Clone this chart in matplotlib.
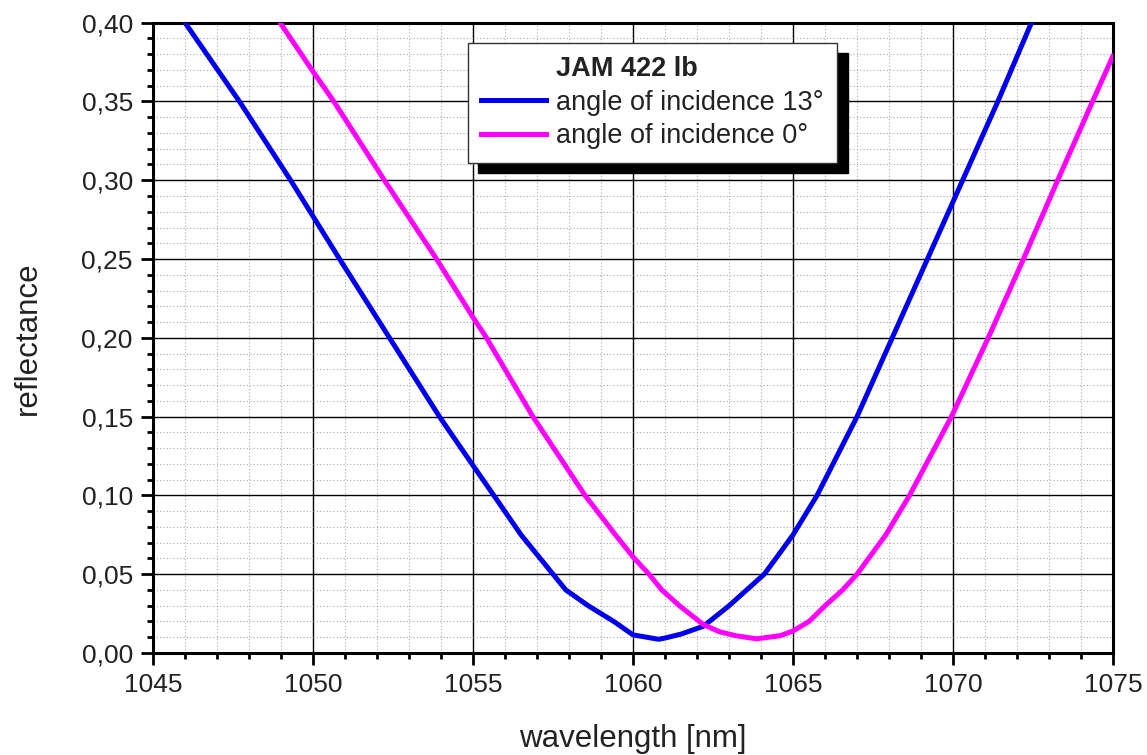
import numpy as np
import matplotlib
matplotlib.use('Agg')
import matplotlib.pyplot as plt
from matplotlib.ticker import MultipleLocator, FuncFormatter
from matplotlib.lines import Line2D

plt.rcParams['font.family'] = ['Liberation Sans', 'DejaVu Sans']

# angle of incidence 13 deg
wl_13 = [1046.0, 1047.7, 1049.3, 1050.83, 1052.39, 1053.95, 1055.0, 1055.65, 1056.5,
         1057.5, 1057.9, 1058.6, 1059.4, 1060.0, 1060.8, 1061.0, 1061.5, 1062.2,
         1063.0, 1063.55, 1064.1, 1064.5, 1065.0, 1065.75, 1067.0, 1068.1, 1069.2,
         1070.3, 1071.4, 1072.45]
r_13 = [0.40, 0.35, 0.30, 0.25, 0.20, 0.15, 0.119, 0.10, 0.075,
        0.05, 0.04, 0.03, 0.02, 0.0115, 0.0087, 0.0095, 0.012, 0.017,
        0.03, 0.04, 0.05, 0.061, 0.075, 0.10, 0.15, 0.20, 0.25,
        0.30, 0.35, 0.40]

# angle of incidence 0 deg
wl_0 = [1048.97, 1050.0, 1050.65, 1052.23, 1053.86, 1055.0, 1055.42, 1056.87, 1058.5,
        1059.45, 1060.0, 1060.5, 1060.9, 1061.45, 1062.2, 1062.7, 1063.2, 1063.86,
        1064.6, 1065.0, 1065.5, 1066.0, 1066.55, 1067.0, 1067.9, 1068.64, 1069.95,
        1071.1, 1072.2, 1073.27, 1074.36, 1075.0]
r_0 = [0.40, 0.369, 0.35, 0.30, 0.25, 0.213, 0.20, 0.15, 0.10,
       0.075, 0.061, 0.05, 0.04, 0.03, 0.018, 0.0135, 0.011, 0.009,
       0.011, 0.014, 0.02, 0.03, 0.04, 0.05, 0.075, 0.10, 0.15,
       0.20, 0.25, 0.30, 0.35, 0.379]

legend_title = 'JAM 422 lb'
labels = ['angle of incidence 13°', 'angle of incidence 0°']

fig = plt.figure(figsize=(11.47, 7.55), dpi=100)
ax = fig.add_axes([0.1334, 0.1351, 0.8370, 0.8349])

ax.plot(wl_13, r_13, color='#0000ee', lw=3.6, solid_capstyle='round',
        solid_joinstyle='round', zorder=3)
ax.plot(wl_0, r_0, color='#ff00ff', lw=3.6, solid_capstyle='round',
        solid_joinstyle='round', zorder=3)

ax.set_xlim(1045, 1075)
ax.set_ylim(0, 0.40)
ax.xaxis.set_major_locator(MultipleLocator(5))
ax.xaxis.set_minor_locator(MultipleLocator(1))
ax.yaxis.set_major_locator(MultipleLocator(0.05))
ax.yaxis.set_minor_locator(MultipleLocator(0.01))
ax.yaxis.set_major_formatter(FuncFormatter(lambda v, p: f'{v:.2f}'.replace('.', ',')))

ax.set_axisbelow(True)
ax.grid(which='major', color='black', lw=1.0)
ax.grid(which='minor', color='#aaaaaa', lw=0.8, linestyle=(0, (1, 2)))

for s in ax.spines.values():
    s.set_linewidth(2.2)
ax.tick_params(which='major', direction='out', length=8.5, width=2.0,
               labelsize=19, pad=6, colors='black', labelcolor='#222222')
ax.tick_params(which='minor', direction='out', length=4.5, width=2.0)

ax.set_xlabel('wavelength [nm]', fontsize=22.5, color='#222222', labelpad=19)
ax.set_ylabel('reflectance', fontsize=22.5, color='#222222', labelpad=28)

handles = [Line2D([], [], color='none'),
           Line2D([], [], color='#0000ee', lw=3.6),
           Line2D([], [], color='#ff00ff', lw=3.6)]
leg = ax.legend(handles, [legend_title] + labels, loc='upper left',
                bbox_to_anchor=(0.328, 0.968), borderaxespad=0, fontsize=19.5,
                handlelength=2.4, handletextpad=0.35, labelspacing=0.27,
                borderpad=0.5, fancybox=False, framealpha=1, edgecolor='#333333',
                shadow={'ox': 7.5, 'oy': -7.5, 'facecolor': 'black',
                        'edgecolor': 'black', 'alpha': 1})
leg.get_frame().set_linewidth(1.0)
leg.get_texts()[0].set_fontweight('bold')
for t in leg.get_texts():
    t.set_color('#222222')
leg.set_zorder(5)

fig.savefig('out.png', dpi=100)
